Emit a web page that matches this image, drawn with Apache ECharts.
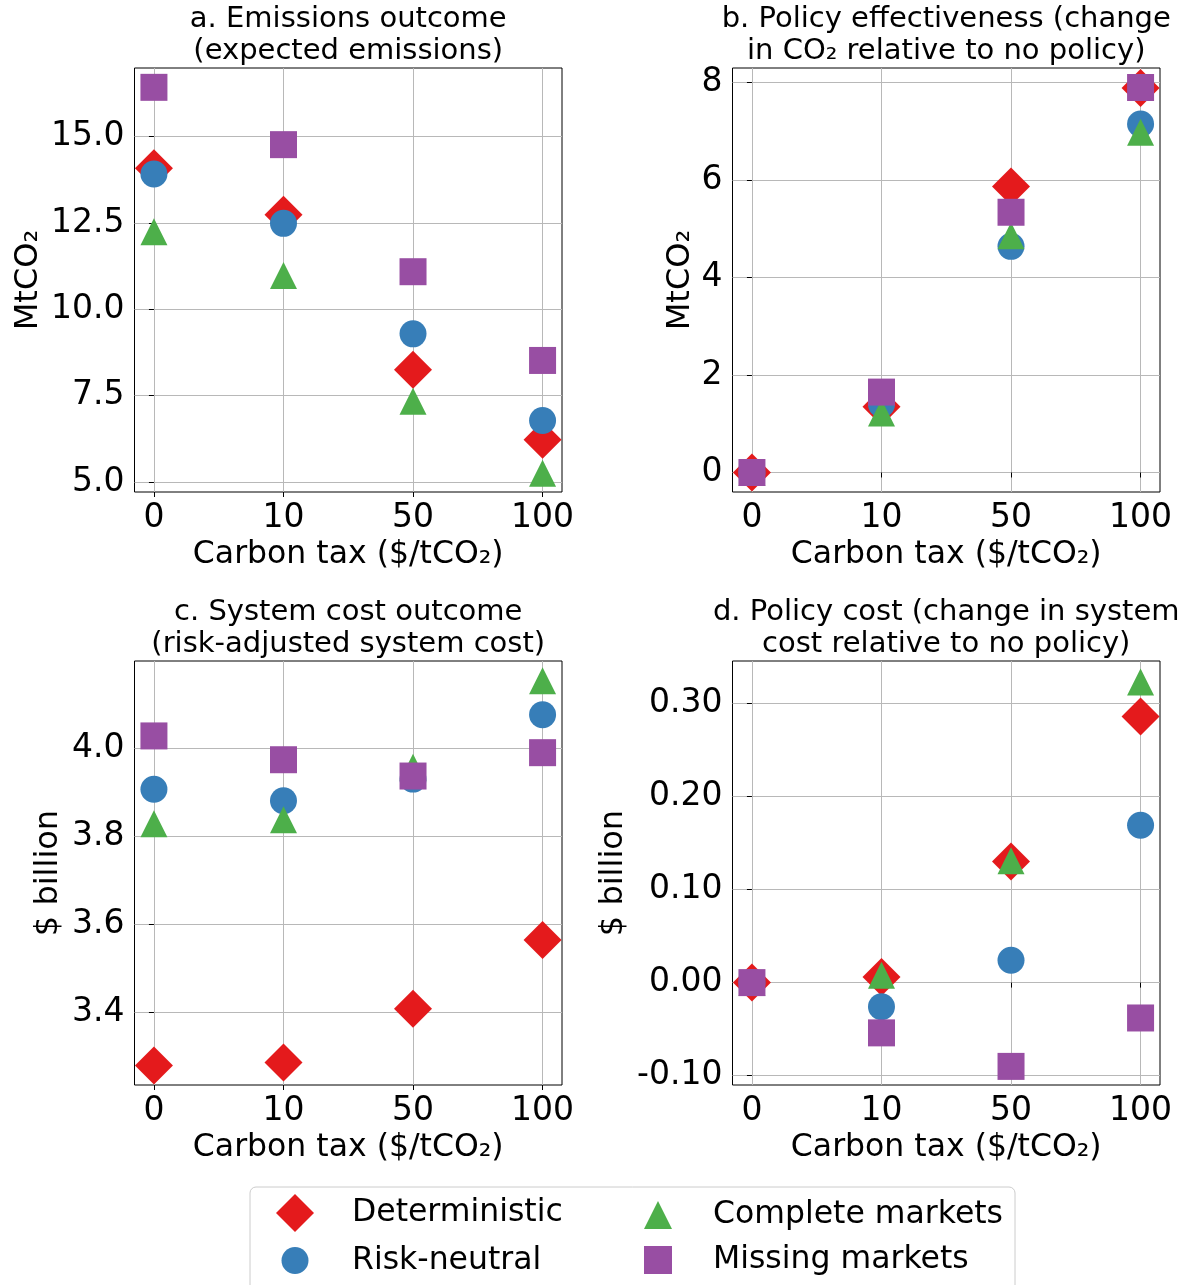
<!DOCTYPE html>
<html>
<head>
<meta charset="utf-8">
<script src="https://cdn.jsdelivr.net/npm/echarts@6.0.0/dist/echarts.min.js"></script>
<style>
  html, body { margin: 0; padding: 0; background: #fff; }
  #chart { width: 1185px; height: 1285px; }
</style>
</head>
<body>
<div id="chart"></div>
<script>
// categories
const taxLabels = ['0', '10', '50', '100']
const taxIndex = [0, 1, 2, 3]
const scenarios = ['Deterministic', 'Risk-neutral', 'Complete markets', 'Missing markets']

// a. expected emissions (MtCO2)
const emisDet = [14.09, 12.74, 8.25, 6.22]
const emisRN = [13.92, 12.49, 9.29, 6.78]
const emisCM = [12.25, 10.98, 7.34, 5.25]
const emisMM = [16.43, 14.77, 11.09, 8.52]

// b. change in CO2 relative to no policy (MtCO2)
const effDet = [0, 1.35, 5.87, 7.89]
const effRN = [0, 1.40, 4.64, 7.15]
const effCM = [0, 1.22, 4.86, 6.98]
const effMM = [0, 1.65, 5.34, 7.90]

// c. risk-adjusted system cost ($ billion)
const costDet = [3.280, 3.287, 3.409, 3.565]
const costRN = [3.907, 3.881, 3.930, 4.076]
const costCM = [3.829, 3.838, 3.957, 4.153]
const costMM = [4.028, 3.974, 3.937, 3.990]

// d. change in system cost relative to no policy ($ billion)
const polDet = [0, 0.006, 0.130, 0.286]
const polRN = [0, -0.026, 0.024, 0.169]
const polCM = [0, 0.008, 0.131, 0.323]
const polMM = [0, -0.054, -0.090, -0.038]

// y tick labels
const yTicksA = [5, 7.5, 10, 12.5, 15]
const yTicksB = [0, 2, 4, 6, 8]
const yTicksC = [3.4, 3.6, 3.8, 4.0]
const yTicksD = [-0.1, 0, 0.1, 0.2, 0.3]

const FONT = 'DejaVu Sans'
const colors = ['#e41a1c', '#377eb8', '#4daf4a', '#984ea3']
const symbols = ['diamond', 'circle', 'triangle', 'rect']
const symbolSizes = [38, 27, 27, 27]

const panels = [
  {
    title: 'a. Emissions outcome\n(expected emissions)',
    yName: 'MtCO₂', yNameGap: 90,
    box: { left: 134.5, top: 68, width: 427.5, height: 424 },
    yMin: 4.71, yMax: 16.99, ticks: yTicksA, digits: 1,
    values: [emisDet, emisRN, emisCM, emisMM]
  },
  {
    title: 'b. Policy effectiveness (change\nin CO₂ relative to no policy)',
    yName: 'MtCO₂', yNameGap: 36,
    box: { left: 732.5, top: 68, width: 427.5, height: 424 },
    yMin: -0.40, yMax: 8.30, ticks: yTicksB, digits: 0,
    values: [effDet, effRN, effCM, effMM]
  },
  {
    title: 'c. System cost outcome\n(risk-adjusted system cost)',
    yName: '$ billion', yNameGap: 70,
    box: { left: 134.5, top: 661, width: 427.5, height: 424 },
    yMin: 3.236, yMax: 4.198, ticks: yTicksC, digits: 1,
    values: [costDet, costRN, costCM, costMM]
  },
  {
    title: 'd. Policy cost (change in system\ncost relative to no policy)',
    yName: '$ billion', yNameGap: 103,
    box: { left: 732.5, top: 661, width: 427.5, height: 424 },
    yMin: -0.110, yMax: 0.3455, ticks: yTicksD, digits: 2,
    values: [polDet, polRN, polCM, polMM]
  }
]

const option = {
  animation: false,
  backgroundColor: '#fff',
  title: [],
  grid: [],
  xAxis: [],
  yAxis: [],
  series: [],
  legend: [],
  graphic: [{
    type: 'rect',
    shape: { x: 250, y: 1187, width: 765, height: 120, r: 6 },
    style: { fill: '#fff', stroke: '#cccccc', lineWidth: 1 },
    z: -1
  }]
}

panels.forEach((p, i) => {
  option.title.push({
    text: p.title,
    left: p.box.left + p.box.width / 2,
    top: p.box.top - 65,
    textAlign: 'center',
    padding: 0,
    textStyle: { fontFamily: FONT, fontSize: 29, fontWeight: 'normal', color: '#000', lineHeight: 32 }
  })
  option.grid.push({
    left: p.box.left, top: p.box.top, width: p.box.width, height: p.box.height,
    show: true, borderColor: '#000', borderWidth: 1, backgroundColor: 'transparent',
    containLabel: false, outerBoundsMode: 'none'
  })
  option.xAxis.push({
    type: 'value', gridIndex: i, min: -0.15, max: 3.15,
    name: 'Carbon tax ($/tCO₂)', nameLocation: 'middle', nameGap: 47,
    nameTextStyle: { fontFamily: FONT, fontSize: 31.5, color: '#000' },
    axisLine: { show: false },
    axisTick: { show: true, length: 5, customValues: taxIndex, lineStyle: { color: '#000' } },
    axisLabel: {
      customValues: taxIndex, margin: 10,
      fontFamily: FONT, fontSize: 33, color: '#000',
      formatter: v => taxLabels[Math.round(v)]
    },
    splitLine: { show: true, lineStyle: { color: '#b8b8b8', width: 1 } }
  })
  option.yAxis.push({
    type: 'value', gridIndex: i, min: p.yMin, max: p.yMax,
    name: p.yName, nameLocation: 'middle', nameRotate: 90, nameGap: p.yNameGap,
    nameTextStyle: { fontFamily: FONT, fontSize: 32, color: '#000' },
    axisLine: { show: false },
    axisTick: { show: true, length: 5, customValues: p.ticks, lineStyle: { color: '#000' } },
    axisLabel: {
      customValues: p.ticks, margin: 10,
      fontFamily: FONT, fontSize: 33, color: '#000',
      formatter: v => v.toFixed(p.digits)
    },
    splitLine: { show: true, lineStyle: { color: '#b8b8b8', width: 1 } }
  })
  scenarios.forEach((name, s) => {
    option.series.push({
      type: 'scatter',
      name: name,
      xAxisIndex: i,
      yAxisIndex: i,
      symbol: symbols[s],
      symbolSize: symbolSizes[s],
      itemStyle: { color: colors[s], opacity: 1 },
      emphasis: { disabled: true },
      data: taxIndex.map((x, k) => [x, p.values[s][k]])
    })
  })
})

// legend: two columns, one component per entry
const legendPos = [
  { left: 276, top: 1194, size: 38, pad: 33 },
  { left: 281.5, top: 1244.5, size: 27, pad: 38.5 },
  { left: 644, top: 1199, size: 28, pad: 36 },
  { left: 644, top: 1244, size: 28, pad: 36 }
]
scenarios.forEach((name, s) => {
  const lp = legendPos[s]
  option.legend.push({
    data: [{ name: name, icon: symbols[s] }],
    left: lp.left, top: lp.top, padding: 0,
    itemWidth: lp.size, itemHeight: lp.size,
    selectedMode: false,
    textStyle: { fontFamily: FONT, fontSize: 31.5, color: '#000', padding: [0, 0, 0, lp.pad] }
  })
})

const chart = echarts.init(document.getElementById('chart'))
chart.setOption(option)
</script>
</body>
</html>
